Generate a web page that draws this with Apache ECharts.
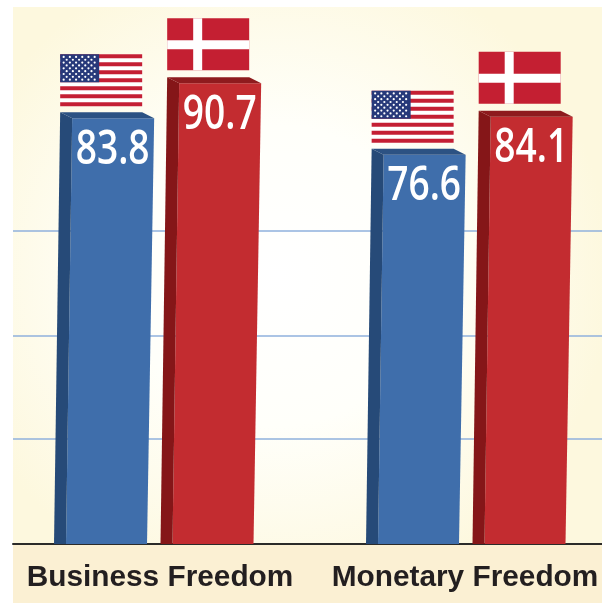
<!DOCTYPE html>
<html>
<head>
<meta charset="utf-8">
<title>Business and Monetary Freedom</title>
<style>
html, body { margin: 0; padding: 0; background: #fff; }
#chart { width: 602px; height: 603px; }
</style>
<script src="https://cdn.jsdelivr.net/npm/echarts@6/dist/echarts.min.js"></script>
</head>
<body>
<div id="chart"></div>
<script>
var categories = ['Business Freedom', 'Monetary Freedom'];
var usaValues = [83.8, 76.6];
var denmarkValues = [90.7, 84.1];
var gridValues = [20.7, 41, 61.6];

var chart = echarts.init(document.getElementById('chart'));

function poly(points, color) {
    return { type: 'polygon', shape: { points: points }, style: { fill: color }, silent: true };
}
function box(x, y, w, h, color) {
    return { type: 'rect', shape: { x: x, y: y, width: w, height: h }, style: { fill: color }, silent: true };
}

function usaFlag(x, y) {
    var list = [box(x, y, 82, 52, '#fff')];
    var i, j;
    for (i = 0; i < 13; i += 2) {
        list.push(box(x, y + i * 4, 82, 4, '#c41f34'));
    }
    list.push(box(x, y, 39, 28, '#27397a'));
    for (i = 0; i < 9; i++) {
        var n = i % 2 ? 5 : 6;
        for (j = 0; j < n; j++) {
            list.push({
                type: 'circle',
                shape: { cx: x + (i % 2 ? 6.5 : 3.5) + j * 6.2, cy: y + 2.6 + i * 2.85, r: 1.1 },
                style: { fill: '#fff' },
                silent: true
            });
        }
    }
    return list;
}

function denmarkFlag(x, y) {
    return [
        box(x, y, 82, 52, '#c41f32'),
        box(x + 26, y, 9, 52, '#fff'),
        box(x, y + 22, 82, 9, '#fff')
    ];
}

// one slanted 3d bar with its flag on top and the value inside
function barItem(offset, colors, flag, flagGap) {
    return function(params, api) {
        var top = api.coord([api.value(0), api.value(1)]);
        var base = api.coord([api.value(0), 0]);
        var h = base[1] - top[1];
        var shift = h * 0.0145;
        var left = base[0] + offset;
        var y = top[1];
        var x = left + shift;

        var children = [
            poly([[left + 12, base[1]], [left + 93, base[1]], [x + 94, y], [x + 12, y]], colors.front),
            poly([[left, base[1]], [left + 12, base[1]], [x + 12, y], [x, y - 6]], colors.side),
            poly([[x, y - 6], [x + 82, y - 6], [x + 94, y], [x + 12, y]], colors.top),
            {
                type: 'text',
                silent: true,
                x: x + 52.5,
                y: y + 32,
                scaleX: 0.79,
                style: {
                    x: 0,
                    y: 0,
                    text: api.value(1).toFixed(1),
                    fill: '#fff',
                    font: '600 47px "Open Sans", sans-serif',
                    align: 'center',
                    verticalAlign: 'middle'
                }
            }
        ].concat(flag(x, y - flagGap));

        return { type: 'group', children: children };
    };
}

var blue = { front: '#3f6eab', side: '#264a78', top: '#2c5283' };
var red = { front: '#c32c30', side: '#851618', top: '#8e1b1e' };

var option = {
    animation: false,
    backgroundColor: 'transparent',
    graphic: {
        elements: [{
            type: 'rect',
            z: -10,
            silent: true,
            shape: { x: 13, y: 7, width: 589, height: 537 },
            style: {
                fill: new echarts.graphic.RadialGradient(0.45, 0.5, 0.62, [
                    { offset: 0, color: '#ffffff' },
                    { offset: 0.45, color: '#fffffa' },
                    { offset: 1, color: '#fdf8de' }
                ])
            }
        }, {
            type: 'rect',
            z: -10,
            silent: true,
            shape: { x: 13, y: 544, width: 589, height: 59 },
            style: { fill: '#fbf0d3' }
        }]
    },
    grid: [
        { left: 13, right: 0, top: 36, bottom: 59 },
        { left: 154, right: 136, top: 36, bottom: 59 }
    ],
    xAxis: [{
        gridIndex: 0,
        type: 'value',
        min: 0,
        max: 1,
        axisLine: { show: true, onZero: false, lineStyle: { color: '#2b2b29', width: 2 } },
        axisTick: { show: false },
        axisLabel: { show: false },
        splitLine: { show: false }
    }, {
        gridIndex: 1,
        type: 'category',
        boundaryGap: false,
        data: [
            { value: categories[0], textStyle: { padding: [0, 0, 0, 12] } },
            { value: categories[1], textStyle: { padding: [0, 2, 0, 0] } }
        ],
        axisLine: { show: false },
        axisTick: { show: false },
        axisLabel: {
            margin: 19,
            interval: 0,
            hideOverlap: false,
            color: '#231f20',
            fontFamily: 'Liberation Sans',
            fontWeight: 'bold',
            fontSize: 29.8
        }
    }],
    yAxis: [{
        gridIndex: 0,
        type: 'value',
        min: 0,
        max: 100,
        axisLine: { show: false },
        axisLabel: { show: false },
        axisTick: { show: false, customValues: gridValues },
        splitLine: { show: true, lineStyle: { color: '#8fb0dc', width: 1.5 } }
    }, {
        gridIndex: 1,
        type: 'value',
        min: 0,
        max: 100,
        show: false
    }],
    series: [{
        name: 'United States',
        type: 'custom',
        xAxisIndex: 1,
        yAxisIndex: 1,
        clip: false,
        z: 5,
        data: usaValues.map(function(v, i) { return [i, v]; }),
        renderItem: barItem(-100, blue, usaFlag, 64)
    }, {
        name: 'Denmark',
        type: 'custom',
        xAxisIndex: 1,
        yAxisIndex: 1,
        clip: false,
        z: 5,
        data: denmarkValues.map(function(v, i) { return [i, v]; }),
        renderItem: barItem(6.5, red, denmarkFlag, 65)
    }]
};

chart.setOption(option);
</script>
</body>
</html>
